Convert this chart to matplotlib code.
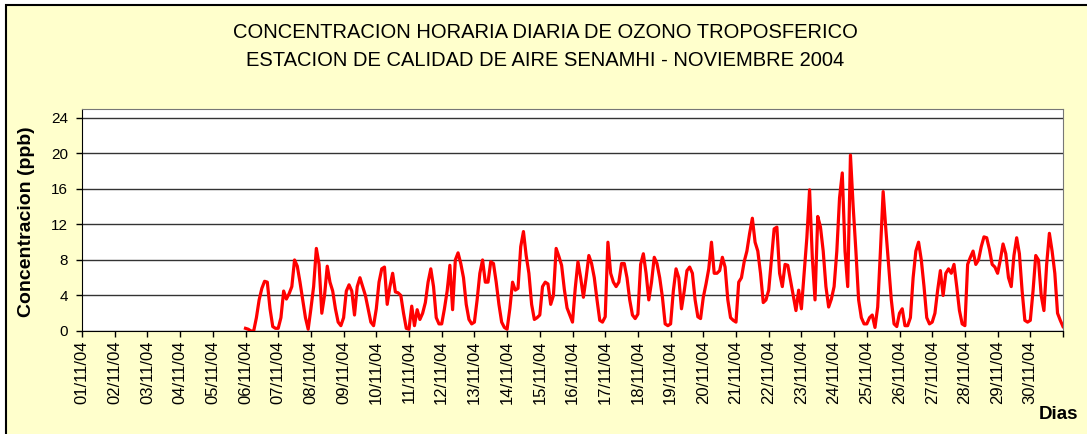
import matplotlib.pyplot as plt
from matplotlib.patches import Rectangle
import numpy as np

plt.rcParams['font.family'] = ['Liberation Sans', 'DejaVu Sans']

# etiquetas del eje de dias
fechas = ['01/11/04', '02/11/04', '03/11/04', '04/11/04', '05/11/04',
          '06/11/04', '07/11/04', '08/11/04', '09/11/04', '10/11/04',
          '11/11/04', '12/11/04', '13/11/04', '14/11/04', '15/11/04',
          '16/11/04', '17/11/04', '18/11/04', '19/11/04', '20/11/04',
          '21/11/04', '22/11/04', '23/11/04', '24/11/04', '25/11/04',
          '26/11/04', '27/11/04', '28/11/04', '29/11/04', '30/11/04']

# ozono (ppb) cada 2 horas, desde el 06/11/04 00:00
ozono_06_10 = [0.3, 0.2, 0.0, 0.0, 1.5, 3.5, 4.8, 5.6, 5.5, 2.5, 0.5, 0.3,
               0.3, 1.5, 4.5, 3.6, 4.2, 5.0, 8.0, 7.3, 5.5, 3.5, 1.5, 0.2,
               2.5, 5.0, 9.3, 7.5, 2.0, 4.0, 7.3, 5.5, 4.5, 2.5, 1.0, 0.6,
               1.5, 4.5, 5.2, 4.5, 1.8, 5.0, 6.0, 5.0, 4.0, 2.5, 1.0, 0.6,
               2.5, 5.5, 7.0, 7.2, 3.0, 5.0, 6.5, 4.4, 4.3, 4.0, 2.0, 0.3]
ozono_11_15 = [0.2, 2.8, 0.6, 2.4, 1.3, 2.0, 3.2, 5.5, 7.0, 5.0, 1.5, 0.8,
               0.8, 2.5, 4.5, 7.4, 2.4, 8.0, 8.8, 7.6, 6.0, 3.0, 1.3, 0.8,
               1.0, 3.5, 6.5, 8.0, 5.5, 5.5, 7.8, 7.6, 5.5, 3.0, 1.0, 0.4,
               0.2, 2.5, 5.5, 4.6, 4.8, 9.5, 11.2, 8.5, 6.5, 3.0, 1.3, 1.5,
               1.8, 5.0, 5.5, 5.3, 3.0, 4.0, 9.3, 8.4, 7.4, 4.7, 2.6, 1.8]
ozono_16_20 = [1.0, 4.8, 7.8, 6.0, 3.8, 6.0, 8.5, 7.6, 6.0, 3.5, 1.2, 1.0,
               1.6, 10.0, 6.5, 5.5, 5.0, 5.5, 7.6, 7.6, 6.0, 3.5, 1.8, 1.4,
               1.9, 7.5, 8.7, 6.5, 3.5, 5.5, 8.3, 7.6, 6.0, 3.8, 0.8, 0.6,
               0.8, 4.5, 7.0, 6.0, 2.5, 4.5, 6.8, 7.2, 6.5, 3.5, 1.6, 1.4,
               3.8, 5.3, 7.0, 10.0, 6.5, 6.5, 6.8, 8.3, 7.2, 3.5, 1.5, 1.2]
ozono_21_25 = [1.0, 5.5, 6.0, 7.8, 9.0, 11.0, 12.7, 10.0, 9.0, 6.5, 3.2, 3.5,
               4.6, 8.0, 11.5, 11.7, 6.5, 5.0, 7.5, 7.4, 5.7, 4.0, 2.3, 4.6,
               2.5, 6.5, 10.5, 15.9, 8.3, 3.5, 12.9, 11.7, 9.0, 5.0, 2.7, 3.6,
               5.0, 9.0, 15.0, 17.8, 9.0, 5.0, 19.8, 14.0, 9.0, 3.5, 1.5, 0.8,
               0.8, 1.5, 1.8, 0.4, 2.7, 9.0, 15.7, 11.4, 7.5, 3.5, 0.8, 0.5]
ozono_26_30 = [2.0, 2.5, 0.6, 0.6, 1.5, 6.0, 9.0, 10.0, 8.0, 5.0, 1.5, 0.8,
               1.0, 2.0, 4.6, 6.8, 4.0, 6.5, 7.0, 6.5, 7.5, 5.0, 2.3, 0.8,
               0.6, 7.5, 8.3, 9.0, 7.5, 8.0, 9.5, 10.6, 10.5, 9.2, 7.5, 7.2,
               6.5, 8.0, 9.8, 8.7, 6.0, 5.0, 8.5, 10.5, 8.7, 4.5, 1.2, 1.0,
               1.2, 4.5, 8.5, 8.0, 4.0, 2.3, 7.5, 11.0, 9.0, 6.5, 2.0, 1.2]
ozono_fin = [0.5]

concentracion = np.array(ozono_06_10 + ozono_11_15 + ozono_16_20 +
                         ozono_21_25 + ozono_26_30 + ozono_fin)
# tiempo en dias contados desde el 01/11/04
t = 5 + np.arange(len(concentracion)) * 2 / 24

fig = plt.figure(figsize=(10.87, 4.34), dpi=100, facecolor='white')
# fondo amarillo con borde negro (solo se ven los lados izquierdo y superior)
fondo = Rectangle((6 / 1087, -0.02), 1.0, 1 - 5 / 434 + 0.02,
                  transform=fig.transFigure, facecolor='#FFFFCC',
                  edgecolor='black', lw=1.5, zorder=-10)
fig.patches.append(fondo)

ax = fig.add_axes([82 / 1087, 1 - 331 / 434, 981 / 1087, 222 / 434])
ax.set_facecolor('white')
ax.plot(t, concentracion, color='#FF0000', lw=2.3, solid_joinstyle='round')

ax.set_xlim(0, 30)
ax.set_ylim(0, 25)
ax.set_yticks(range(0, 25, 4))
ax.set_xticks(range(31))
ax.set_xticklabels(fechas + [''], rotation=90)
ax.grid(axis='y', color='#333333', lw=1)
ax.set_axisbelow(True)
ax.tick_params(axis='x', length=4, width=1, labelsize=12, pad=3)
ax.tick_params(axis='y', length=4, width=1, labelsize=11, pad=6)
for lado in ['top', 'right']:
    ax.spines[lado].set_color('#777777')

fig.text(0.5014, 1 - 32 / 434, 'CONCENTRACION HORARIA DIARIA DE OZONO TROPOSFERICO',
         ha='center', va='center', fontsize=14.5)
fig.text(0.5014, 1 - 61 / 434, 'ESTACION DE CALIDAD DE AIRE SENAMHI - NOVIEMBRE 2004',
         ha='center', va='center', fontsize=14.5)
fig.text(27 / 1087, 1 - 222 / 434, 'Concentracion (ppb)', rotation=90,
         ha='center', va='center', fontsize=14, fontweight='bold')
fig.text(1078 / 1087, 1 - 419 / 434, 'Dias', ha='right', va='baseline',
         fontsize=13.5, fontweight='bold')

plt.savefig('out.png', dpi=100, facecolor=fig.get_facecolor())
